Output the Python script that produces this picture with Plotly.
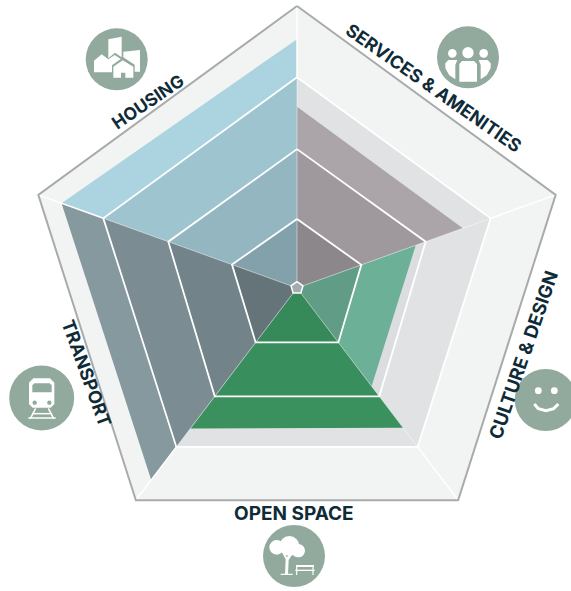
import math
import plotly.graph_objects as go

W, H = 571, 591
CX, CY, UNIT = 297, 288, 70.5

# axis directions, clockwise from the top spoke (the pentagon is slightly uneven)
axis_theta = [0, 70.2, 142.8, 217.2, 289.8]

# ring radius on each spoke, in score units
ring_outer = [4.00, 3.90, 3.78, 3.78, 3.90]
ring_3 = [2.99, 2.92, 2.83, 2.83, 2.92]
ring_2 = [1.97, 1.94, 1.93, 1.93, 1.94]
ring_1 = [0.98, 0.97, 0.97, 0.97, 0.98]
ring_centre = [0.09, 0.09, 0.09, 0.09, 0.09]

# sectors: name, first spoke, second spoke, score on each spoke
categories = ["HOUSING", "SERVICES & AMENITIES", "CULTURE & DESIGN", "OPEN SPACE", "TRANSPORT"]
sector_spokes = [(4, 0), (0, 1), (1, 2), (2, 3), (3, 4)]
sector_scores = [(3.55, 3.53), (2.57, 2.50), (1.79, 1.75), (2.49, 2.50), (3.42, 3.55)]
sector_colors = ["#abd4e0", "#b9b2b7", "#7fcdb1", "#3c9460", "#85999f"]

# label placement
label_x = [148, 433, 523, 294, 87]
label_y = [102, 88, 355, 513, 373]
label_angle = [-34, 35, -71, 0, 70]
label_size = [17.5, 18, 18.5, 19, 18]

NAVY = "#0f2b38"
ICON = "#92aa9d"


def xy(radii, spokes):
    xs, ys = [], []
    for r, s in zip(radii, spokes):
        t = math.radians(axis_theta[s])
        xs.append(r * math.sin(t))
        ys.append(r * math.cos(t))
    return xs, ys


fig = go.Figure()


def add_poly(radii, spokes, fill=None, line=None, width=0):
    xs, ys = xy(radii, spokes)
    fig.add_trace(go.Scatter(
        x=xs, y=ys, mode="lines", cliponaxis=False,
        fill="toself" if fill else None, fillcolor=fill,
        line=dict(color=line or "rgba(0,0,0,0)", width=width),
        hoverinfo="skip", showlegend=False,
    ))


def add_ring(values, fill=None, line=None, width=0):
    add_poly(list(values) + [values[0]], [0, 1, 2, 3, 4, 0], fill, line, width)


def add_wedge(i, fill, limit=None):
    a, b = sector_spokes[i]
    va, vb = sector_scores[i]
    if limit:
        va, vb = min(va, limit[a]), min(vb, limit[b])
    add_poly([0, va, vb, 0], [a, a, b, b], fill)


add_ring(ring_outer, fill="#f2f4f4")
add_ring(ring_3, fill="#e1e2e4")
add_ring(ring_2, fill="#dcdde0")
for i in range(5):
    add_wedge(i, sector_colors[i])

# the bands darken toward the centre, except the green sector which barely shifts
for i in range(5):
    shade = [0.02, 0.02, 0.03] if i == 3 else [0.075, 0.065, 0.115]
    add_wedge(i, f"rgba(0,0,0,{shade[0]})", ring_3)
    add_wedge(i, f"rgba(0,0,0,{shade[1]})", ring_2)
    add_wedge(i, f"rgba(0,0,0,{shade[2]})", ring_1)

# spokes: faint seam inside, clean white outside the third ring
for s in range(5):
    add_poly([0, ring_3[s]], [s, s], line="rgba(255,255,255,0.45)", width=1)
    add_poly([ring_3[s], ring_outer[s]], [s, s], line="white", width=1.5)

add_ring(ring_3, line="white", width=1.8)
add_ring(ring_2, line="white", width=1.8)
add_ring(ring_1, line="white", width=1.8)
add_ring(ring_outer, line="#a9abab", width=2)
add_ring(ring_centre, fill="#a4abae", line="white", width=1.5)


def px(x, y):
    return x / W, 1 - y / H


def poly(points, color="white"):
    p = [px(*pt) for pt in points]
    path = "M " + " L ".join(f"{x:.5f} {y:.5f}" for x, y in p) + " Z"
    return dict(type="path", xref="paper", yref="paper", path=path,
                fillcolor=color, line=dict(width=0))


def line(points, width=1.5, color="white"):
    p = [px(*pt) for pt in points]
    path = "M " + " L ".join(f"{x:.5f} {y:.5f}" for x, y in p)
    return dict(type="path", xref="paper", yref="paper", path=path,
                line=dict(color=color, width=width))


def disc(x, y, r, color="white"):
    x0, y0 = px(x - r, y + r)
    x1, y1 = px(x + r, y - r)
    return dict(type="circle", xref="paper", yref="paper", x0=x0, y0=y0, x1=x1, y1=y1,
                fillcolor=color, line=dict(width=0))


def zoomed(ox, oy, pts):
    # icon outlines were measured on 3x crops
    return [(ox + x / 3, oy + y / 3) for x, y in pts]


shapes = []

# housing icon
shapes.append(disc(116.7, 59.3, 31, ICON))
o = (30, 0)
shapes.append(poly(zoomed(*o, [(235, 118), (275, 110), (275, 172), (255, 158), (235, 175)])))
shapes.append(poly(zoomed(*o, [(280, 155), (330, 150), (330, 215), (314, 215), (314, 194), (280, 172)])))
shapes.append(poly(zoomed(*o, [(192, 182), (215, 163), (235, 178), (254, 165), (272, 177), (246, 196), (246, 217), (192, 217)])))
shapes.append(poly(zoomed(*o, [(250, 200), (278, 181), (310, 200), (310, 233), (286, 233), (286, 218), (273, 218), (273, 233), (250, 233)])))

# services icon
shapes.append(disc(468, 57.3, 31, ICON))
o = (340, 0)
for x, y, r in [(337, 160, 13), (384, 158, 17), (431, 160, 13)]:
    cx, cy = zoomed(*o, [(x, y)])[0]
    shapes.append(disc(cx, cy, r / 3))
shapes.append(poly(zoomed(*o, [(366, 183), (402, 183), (411, 192), (411, 245), (358, 245), (358, 192)])))
shapes.append(poly(zoomed(*o, [(325, 180), (352, 180), (346, 195), (346, 238), (328, 226), (316, 205), (316, 190)])))
shapes.append(poly(zoomed(*o, [(443, 180), (416, 180), (422, 195), (422, 238), (440, 226), (452, 205), (452, 190)])))

# culture icon
shapes.append(disc(545.7, 400, 31, ICON))
o = (370, 230)
for x, y in [(505, 482), (553, 482)]:
    cx, cy = zoomed(*o, [(x, y)])[0]
    shapes.append(disc(cx, cy, 3.4))
shapes.append(line(zoomed(*o, [(493, 522), (505, 536), (528, 542), (551, 536), (565, 522)]), width=3))

# open space icon
shapes.append(disc(294, 556, 31, ICON))
o = (120, 420)
for x, y, r in [(470, 382, 22), (508, 378, 30), (535, 392, 20)]:
    cx, cy = zoomed(*o, [(x, y)])[0]
    shapes.append(disc(cx, cy, r / 3))
shapes.append(poly(zoomed(*o, [(495, 462), (497, 418), (487, 400), (493, 400), (501, 412), (513, 398), (520, 398), (506, 420), (504, 462)])))
shapes.append(line(zoomed(*o, [(482, 463), (518, 463)]), width=1.2))
shapes.append(poly(zoomed(*o, [(528, 435), (582, 435), (582, 441), (528, 441)])))
shapes.append(poly(zoomed(*o, [(526, 449), (584, 449), (584, 453), (526, 453)])))
shapes.append(line(zoomed(*o, [(530, 441), (530, 465)]), width=1.2))
shapes.append(line(zoomed(*o, [(579, 441), (579, 465)]), width=1.2))

# transport icon
shapes.append(disc(41.7, 398, 32.5, ICON))
o = (0, 300)
shapes.append(poly(zoomed(*o, [(100, 235), (150, 235), (163, 248), (163, 312), (152, 323), (98, 323), (87, 312), (87, 248)])))
shapes.append(poly(zoomed(*o, [(103, 250), (149, 250), (155, 256), (155, 277), (97, 277), (97, 256)]), ICON))
for x, y in [(104, 308), (148, 308)]:
    cx, cy = zoomed(*o, [(x, y)])[0]
    shapes.append(disc(cx, cy, 2.2, ICON))
shapes.append(line(zoomed(*o, [(96, 341), (156, 341)]), width=1.5))
shapes.append(line(zoomed(*o, [(85, 354), (167, 354)]), width=1.5))
shapes.append(line(zoomed(*o, [(107, 325), (91, 356)]), width=1.5))
shapes.append(line(zoomed(*o, [(145, 325), (161, 356)]), width=1.5))

annotations = []
for name, x, y, angle, size in zip(categories, label_x, label_y, label_angle, label_size):
    ax, ay = px(x, y)
    annotations.append(dict(
        text=f"<b>{name}</b>", x=ax, y=ay, xref="paper", yref="paper",
        xanchor="center", yanchor="middle", textangle=angle, showarrow=False,
        font=dict(family="Inter", size=size, color=NAVY),
    ))

fig.update_layout(
    width=W, height=H, margin=dict(l=0, r=0, t=0, b=0), autosize=False,
    paper_bgcolor="white", plot_bgcolor="white", showlegend=False,
    xaxis=dict(visible=False, range=[-CX / UNIT, (W - CX) / UNIT]),
    yaxis=dict(visible=False, range=[-(H - CY) / UNIT, CY / UNIT]),
    shapes=shapes,
    annotations=annotations,
)

# the page's default body margin would push the figure off the window
fig.write_html("out.html", config=dict(displayModeBar=False),
               post_script="document.body.style.margin='0';document.body.style.overflow='hidden';")
